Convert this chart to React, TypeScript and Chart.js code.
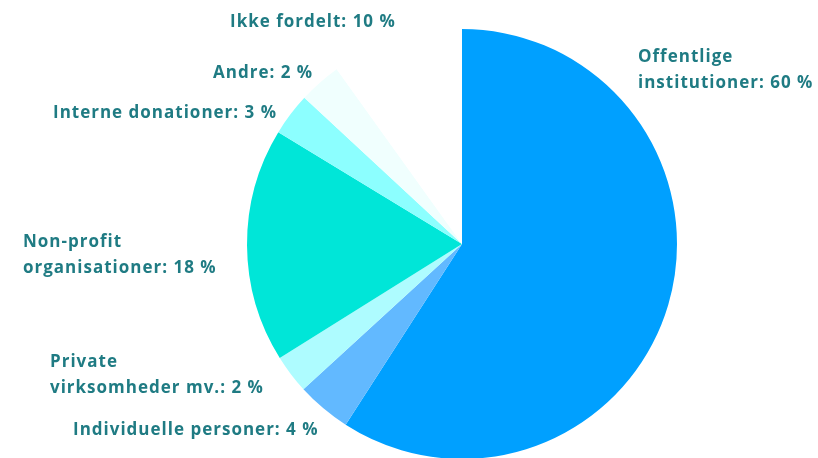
import React, { useEffect, useRef } from "react";
import { Chart, registerables } from "chart.js";

Chart.register(...registerables);

const categories = [
  "Offentlige institutioner",
  "Individuelle personer",
  "Private virksomheder mv.",
  "Non-profit organisationer",
  "Interne donationer",
  "Andre",
  "Ikke fordelt",
];
const shares = [59.1, 4.1, 2.9, 17.6, 3.2, 3.2, 9.9];
const labelLines = [
  ["Offentlige", "institutioner: 60 %"],
  ["Individuelle personer: 4 %"],
  ["Private", "virksomheder mv.: 2 %"],
  ["Non-profit", "organisationer: 18 %"],
  ["Interne donationer: 3 %"],
  ["Andre: 2 %"],
  ["Ikke fordelt: 10 %"],
];
const colors = ["#00a0ff", "#62b9ff", "#aefcff", "#00e6d8", "#8cffff", "#f0fffe", "#ffffff"];

// label anchor (left x, first-line center y) relative to pie centre
const labelLayout = [
  [176, -187],
  [-389, 186],
  [-412, 118],
  [-439, -2],
  [-409, -131],
  [-249, -171],
  [-232, -222],
];

const labelPlugin = {
  id: "sliceLabels",
  afterDatasetsDraw(chart: any) {
    const meta = chart.getDatasetMeta(0);
    const arc = meta.data[0];
    if (!arc) return;
    const cx = arc.x;
    const cy = arc.y;
    const ctx = chart.ctx;
    ctx.save();
    ctx.fillStyle = "#1f7b83";
    ctx.font = "bold 17px 'Open Sans'";
    (ctx as any).letterSpacing = "1px";
    ctx.textAlign = "left";
    ctx.textBaseline = "middle";
    labelLines.forEach((lines, i) => {
      const [dx, dy] = labelLayout[i];
      lines.forEach((t, j) => {
        ctx.fillText(t, cx + dx, cy + dy + j * 26);
      });
    });
    ctx.restore();
  },
};

export default function App() {
  const ref = useRef<HTMLCanvasElement | null>(null);
  useEffect(() => {
    document.body.style.margin = "0";
    const chart = new Chart(ref.current as HTMLCanvasElement, {
      type: "pie",
      data: {
        labels: categories,
        datasets: [
          {
            data: shares,
            backgroundColor: colors,
            borderWidth: 0,
          },
        ],
      },
      options: {
        responsive: false,
        animation: false,
        radius: 215,
        layout: { padding: { left: 106, right: 0, top: 30, bottom: 0 } },
        plugins: {
          legend: { display: false },
          tooltip: { enabled: false },
        },
      } as any,
      plugins: [labelPlugin],
    });
    return () => chart.destroy();
  }, []);
  return (
    <div style={{ width: 818, height: 458, background: "#fff" }}>
      <canvas ref={ref} width={818} height={458} />
    </div>
  );
}
